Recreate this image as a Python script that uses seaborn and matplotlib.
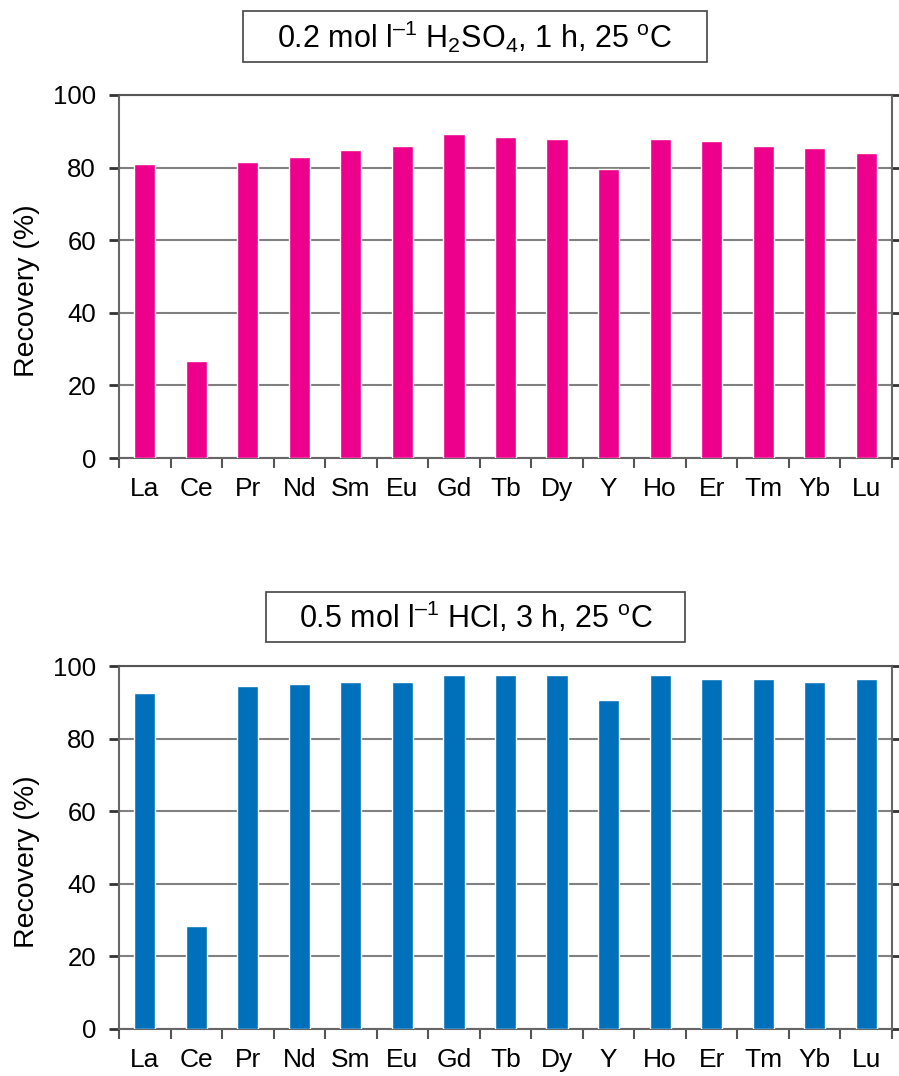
import matplotlib
matplotlib.use("Agg")
import matplotlib.pyplot as plt
from matplotlib.patches import Rectangle
import seaborn as sns
import pandas as pd

elements = ["La", "Ce", "Pr", "Nd", "Sm", "Eu", "Gd", "Tb", "Dy", "Y", "Ho", "Er", "Tm", "Yb", "Lu"]
h2so4_recovery = [81.0, 26.7, 81.6, 82.9, 84.8, 85.9, 89.2, 88.4, 87.9, 79.6, 87.9, 87.3, 85.9, 85.4, 84.0]
hcl_recovery = [92.5, 28.4, 94.4, 95.0, 95.5, 95.5, 97.4, 97.4, 97.4, 90.6, 97.4, 96.3, 96.3, 95.5, 96.3]
y_ticks = [0, 20, 40, 60, 80, 100]
DASH = "\u2013"
titles = ["0.2 mol l$^{" + DASH + "1}$ H$_{2}$SO$_{4}$, 1 h, 25 $^{o}$C",
          "0.5 mol l$^{" + DASH + "1}$ HCl, 3 h, 25 $^{o}$C"]
colors = ["#EC008C", "#0070BA"]

sns.set_theme(style="white")
plt.rcParams['font.family'] = ['Liberation Sans', 'DejaVu Sans']
plt.rcParams['mathtext.fontset'] = 'custom'
plt.rcParams['mathtext.rm'] = 'Liberation Sans'
plt.rcParams['mathtext.it'] = 'Liberation Sans'
plt.rcParams['mathtext.default'] = 'regular'
plt.rcParams['text.color'] = 'black'
plt.rcParams['axes.labelcolor'] = 'black'
plt.rcParams['xtick.color'] = 'black'
plt.rcParams['ytick.color'] = 'black'

W, H = 899, 1076
fig = plt.figure(figsize=(W / 100, H / 100), dpi=100)

def px_rect(l, t, r, b):
    return [l / W, 1 - b / H, (r - l) / W, (b - t) / H]

axes_px = [(119, 95, 892, 458), (119, 666, 892, 1029)]
boxes_px = [(243, 11, 707, 62), (266, 592, 685, 642)]
datasets = [h2so4_recovery, hcl_recovery]

for i in range(2):
    ax = fig.add_axes(px_rect(*axes_px[i]))
    df = pd.DataFrame({"Element": elements, "Recovery": datasets[i]})
    sns.barplot(data=df, x="Element", y="Recovery", color=colors[i], width=0.41,
                saturation=1, ax=ax, zorder=3)
    ax.set_xlim(-0.5, len(elements) - 0.5)
    ax.set_ylim(0, 100)
    ax.set_yticks(y_ticks)
    ax.set_yticklabels([str(v) for v in y_ticks], fontsize=18.5)
    ax.set_xticks(range(len(elements)))
    ax.set_xticklabels(elements, fontsize=19)
    ax.set_xticks([k - 0.5 for k in range(len(elements) + 1)], minor=True)
    ax.tick_params(axis="x", which="major", length=0, pad=14, labelcolor="black")
    ax.tick_params(axis="x", which="minor", length=7.5, width=1.5, direction="out",
                   color="#555555", bottom=True)
    ax.tick_params(axis="y", which="major", length=7.5, width=2, direction="out",
                   color="#333333", left=True, right=True, pad=9, labelcolor="black")
    ax.set_xlabel("")
    ax.set_ylabel("Recovery (%)", fontsize=20.5, color="black")
    ax.yaxis.set_label_coords(-0.102, 0.46)
    ax.yaxis.grid(True, color="#808080", linewidth=1.5, zorder=0)
    ax.set_axisbelow(True)
    for s in ["left", "right", "top", "bottom"]:
        ax.spines[s].set_visible(True)
        ax.spines[s].set_color("#666666")
        ax.spines[s].set_linewidth(1.5)
    ax.spines["top"].set_color("#555555")

    l, t, r, b = boxes_px[i]
    fig.patches.append(Rectangle((l / W, 1 - b / H), (r - l) / W, (b - t) / H,
                                 transform=fig.transFigure, fill=False,
                                 edgecolor="#444444", linewidth=1.2))
    fig.text((l + r) / 2 / W, 1 - (t + b) / 2 / H, titles[i], fontsize=22,
             ha="center", va="center", color="black")

fig.savefig("out.png", dpi=100)
